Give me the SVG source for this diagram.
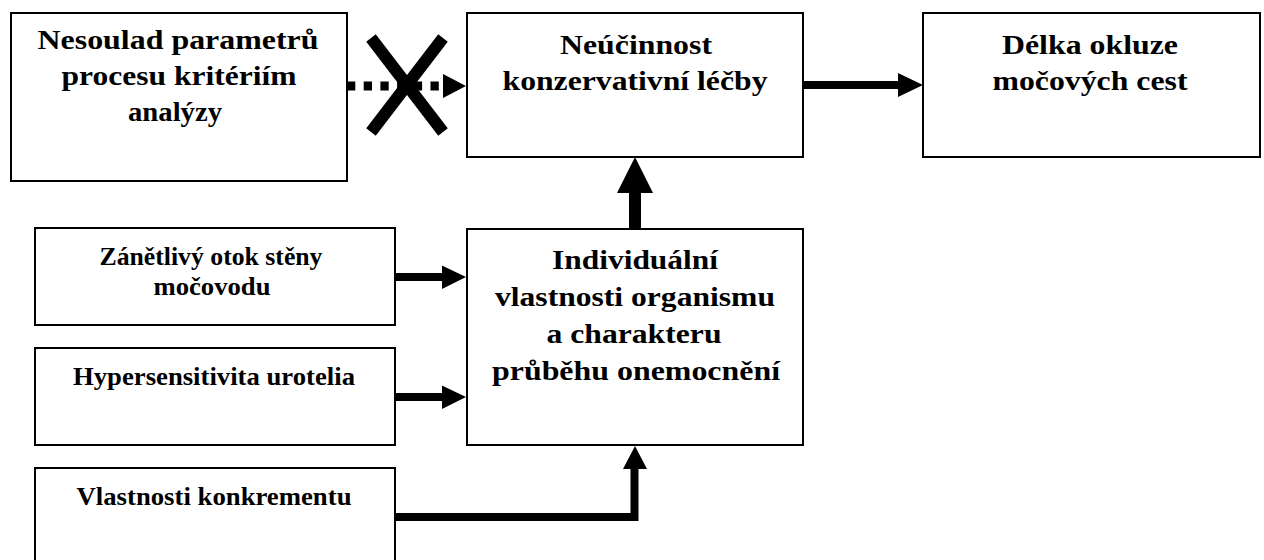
<svg xmlns="http://www.w3.org/2000/svg" width="1264" height="560" viewBox="0 0 1264 560">
  <style>
    .box { fill: #ffffff; stroke: #000000; stroke-width: 2; }
    .big { font-family: 'Liberation Serif', 'DejaVu Serif', serif; font-weight: bold; font-size: 27.5px; text-anchor: middle; fill: #000000; }
    .small { font-family: 'Liberation Serif', 'DejaVu Serif', serif; font-weight: bold; font-size: 25px; text-anchor: middle; fill: #000000; }
    .shaft { fill: none; stroke: #000000; stroke-width: 8; stroke-linejoin: miter; }
    .head { fill: #000000; stroke: none; }
  </style>
  <rect width="1264" height="560" fill="#ffffff"/>

  <g id="nesoulad">
    <rect class="box" x="11" y="13" width="336" height="168"/>
    <text class="big" x="178" y="49" textLength="281" lengthAdjust="spacingAndGlyphs">Nesoulad parametrů</text>
    <text class="big" x="179" y="85" textLength="235" lengthAdjust="spacingAndGlyphs">procesu kritériím</text>
    <text class="big" x="175" y="121" textLength="94" lengthAdjust="spacingAndGlyphs">analýzy</text>
  </g>

  <g id="neucinnost">
    <rect class="box" x="467" y="13" width="336" height="144"/>
    <text class="big" x="636" y="54" textLength="152" lengthAdjust="spacingAndGlyphs">Neúčinnost</text>
    <text class="big" x="635" y="90" textLength="265" lengthAdjust="spacingAndGlyphs">konzervativní léčby</text>
  </g>

  <g id="delka">
    <rect class="box" x="923" y="13" width="337" height="144"/>
    <text class="big" x="1090" y="54" textLength="176" lengthAdjust="spacingAndGlyphs">Délka okluze</text>
    <text class="big" x="1090" y="90" textLength="195" lengthAdjust="spacingAndGlyphs">močových cest</text>
  </g>

  <g id="individualni">
    <rect class="box" x="467" y="229" width="336" height="216"/>
    <text class="big" x="635" y="269" textLength="166" lengthAdjust="spacingAndGlyphs">Individuální</text>
    <text class="big" x="635" y="306" textLength="280" lengthAdjust="spacingAndGlyphs">vlastnosti organismu</text>
    <text class="big" x="634" y="343" textLength="175" lengthAdjust="spacingAndGlyphs">a charakteru</text>
    <text class="big" x="636" y="380" textLength="288" lengthAdjust="spacingAndGlyphs">průběhu onemocnění</text>
  </g>

  <g id="zanetlivy">
    <rect class="box" x="35" y="228" width="360" height="97"/>
    <text class="small" x="211" y="265" textLength="223" lengthAdjust="spacingAndGlyphs">Zánětlivý otok stěny</text>
    <text class="small" x="212" y="295" textLength="117" lengthAdjust="spacingAndGlyphs">močovodu</text>
  </g>

  <g id="hypersensitivita">
    <rect class="box" x="35" y="348" width="360" height="97"/>
    <text class="small" x="214" y="385" textLength="282" lengthAdjust="spacingAndGlyphs">Hypersensitivita urotelia</text>
  </g>

  <g id="konkrement">
    <rect class="box" x="35" y="468" width="360" height="130"/>
    <text class="small" x="214" y="505" textLength="275" lengthAdjust="spacingAndGlyphs">Vlastnosti konkrementu</text>
  </g>

  <g id="connectors">
    <!-- blocked (crossed-out) dotted link -->
    <line x1="347" y1="86" x2="440" y2="86" stroke="#000000" stroke-width="9" stroke-dasharray="8.3 8.4"/>
    <polygon class="head" points="443,74 466,86 443,98"/>
    <line x1="371" y1="38" x2="443" y2="132" stroke="#000000" stroke-width="12"/>
    <line x1="443" y1="38" x2="371" y2="132" stroke="#000000" stroke-width="12"/>

    <!-- treatment failure to occlusion length -->
    <line class="shaft" x1="803" y1="85" x2="900" y2="85"/>
    <polygon class="head" points="898,73 923,85 898,97"/>

    <!-- individual properties up to treatment failure -->
    <rect class="head" x="629" y="190" width="12" height="39"/>
    <polygon class="head" points="617,193 635,157 653,193"/>

    <!-- inputs to individual properties -->
    <line class="shaft" x1="395" y1="277" x2="444" y2="277"/>
    <polygon class="head" points="442,265.5 466,277 442,289"/>
    <line class="shaft" x1="395" y1="397" x2="444" y2="397"/>
    <polygon class="head" points="442,385.5 466,397 442,409"/>
    <polyline class="shaft" points="395,517 634.5,517 634.5,466"/>
    <polygon class="head" points="623,469 635,446 647,469"/>
  </g>
</svg>
